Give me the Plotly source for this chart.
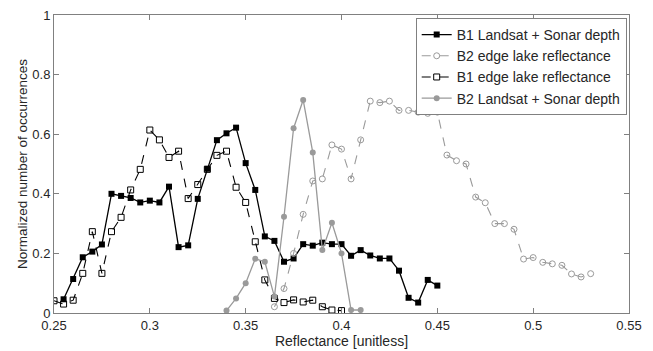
import plotly.graph_objects as go

# B1 Landsat + Sonar depth
b1_ls_x = [round(0.255 + 0.005 * i, 3) for i in range(40)]
b1_ls_y = [0.046, 0.114, 0.187, 0.206, 0.230, 0.400, 0.393, 0.386, 0.371, 0.377,
           0.371, 0.424, 0.221, 0.227, 0.383, 0.484, 0.580, 0.603, 0.622, 0.503,
           0.413, 0.257, 0.242, 0.172, 0.183, 0.231, 0.226, 0.236, 0.231, 0.231,
           0.192, 0.211, 0.193, 0.183, 0.183, 0.142, 0.051, 0.035, 0.111, 0.092]

# B2 edge lake reflectance
b2_edge_x = [round(0.365 + 0.005 * i, 3) for i in range(34)]
b2_edge_y = [0.021, 0.082, 0.200, 0.331, 0.443, 0.450, 0.564, 0.550, 0.450, 0.581,
             0.711, 0.706, 0.711, 0.680, 0.680, 0.674, 0.670, 0.674, 0.530, 0.511,
             0.500, 0.389, 0.370, 0.300, 0.300, 0.281, 0.181, 0.186, 0.170, 0.165,
             0.160, 0.131, 0.121, 0.132]

# B1 edge lake reflectance
b1_edge_x = [round(0.25 + 0.005 * i, 3) for i in range(31)]
b1_edge_y = [0.041, 0.030, 0.043, 0.133, 0.273, 0.133, 0.273, 0.321, 0.413, 0.482,
             0.614, 0.581, 0.522, 0.543, 0.384, 0.431, 0.482, 0.529, 0.543, 0.422,
             0.371, 0.239, 0.111, 0.049, 0.035, 0.044, 0.037, 0.043, 0.021, 0.010,
             0.008]

# B2 Landsat + Sonar depth
b2_ls_x = [round(0.34 + 0.005 * i, 3) for i in range(15)]
b2_ls_y = [0.008, 0.049, 0.100, 0.182, 0.172, 0.055, 0.323, 0.620, 0.715, 0.539,
           0.211, 0.303, 0.200, 0.010, 0.010]

x_ticks = [0.25, 0.3, 0.35, 0.4, 0.45, 0.5, 0.55]
x_tick_labels = ["0.25", "0.3", "0.35", "0.4", "0.45", "0.5", "0.55"]
y_ticks = [0, 0.2, 0.4, 0.6, 0.8, 1]
y_tick_labels = ["0", "0.2", "0.4", "0.6", "0.8", "1"]

GRAY = "#9a9a9a"
FONT = "Liberation Sans, Arial, sans-serif"
TXT = "#262626"

fig = go.Figure()
fig.add_trace(go.Scatter(
    x=b1_ls_x, y=b1_ls_y, mode="lines+markers", name="B1 Landsat + Sonar depth",
    line=dict(color="black", width=1.3),
    marker=dict(symbol="square", size=6, color="black")))
fig.add_trace(go.Scatter(
    x=b2_edge_x, y=b2_edge_y, mode="lines+markers", name="B2 edge lake reflectance",
    line=dict(color=GRAY, width=1.1, dash="dash"),
    marker=dict(symbol="circle-open", size=6, color=GRAY, line=dict(width=1))))
fig.add_trace(go.Scatter(
    x=b1_edge_x, y=b1_edge_y, mode="lines+markers", name="B1 edge lake reflectance",
    line=dict(color="black", width=1.1, dash="dash"),
    marker=dict(symbol="square-open", size=6, color="black", line=dict(width=1))))
fig.add_trace(go.Scatter(
    x=b2_ls_x, y=b2_ls_y, mode="lines+markers", name="B2 Landsat + Sonar depth",
    line=dict(color=GRAY, width=1.3),
    marker=dict(symbol="circle", size=6, color=GRAY)))

axis_common = dict(
    showgrid=False, zeroline=False, showline=True, linecolor="#808080", linewidth=1,
    mirror="ticks", ticks="inside", ticklen=5, tickcolor="#808080", tickwidth=1,
    tickfont=dict(family=FONT, size=13, color=TXT), automargin=False,
)

fig.update_layout(
    width=653, height=351,
    margin=dict(l=54, r=24, t=15, b=38, autoexpand=False),
    paper_bgcolor="white", plot_bgcolor="white",
    font=dict(family=FONT, size=13, color=TXT),
    xaxis=dict(range=[0.25, 0.55], tickvals=x_ticks, ticktext=x_tick_labels,
               title=dict(text="Reflectance [unitless]", standoff=2,
                          font=dict(family=FONT, size=14, color=TXT)),
               **axis_common),
    yaxis=dict(range=[0, 1], tickvals=y_ticks, ticktext=y_tick_labels,
               title=dict(text="Normalized number of occurrences", standoff=1,
                          font=dict(family=FONT, size=13.5, color=TXT)),
               **axis_common),
    legend=dict(x=0.996, y=0.99, xanchor="right", yanchor="top",
                bgcolor="white", bordercolor="#808080", borderwidth=1,
                font=dict(family=FONT, size=14, color=TXT),
                tracegroupgap=0, itemwidth=30),
    showlegend=True,
)

fig.write_html("out.html", config={"displayModeBar": False},
               post_script="document.body.style.margin='0';")
